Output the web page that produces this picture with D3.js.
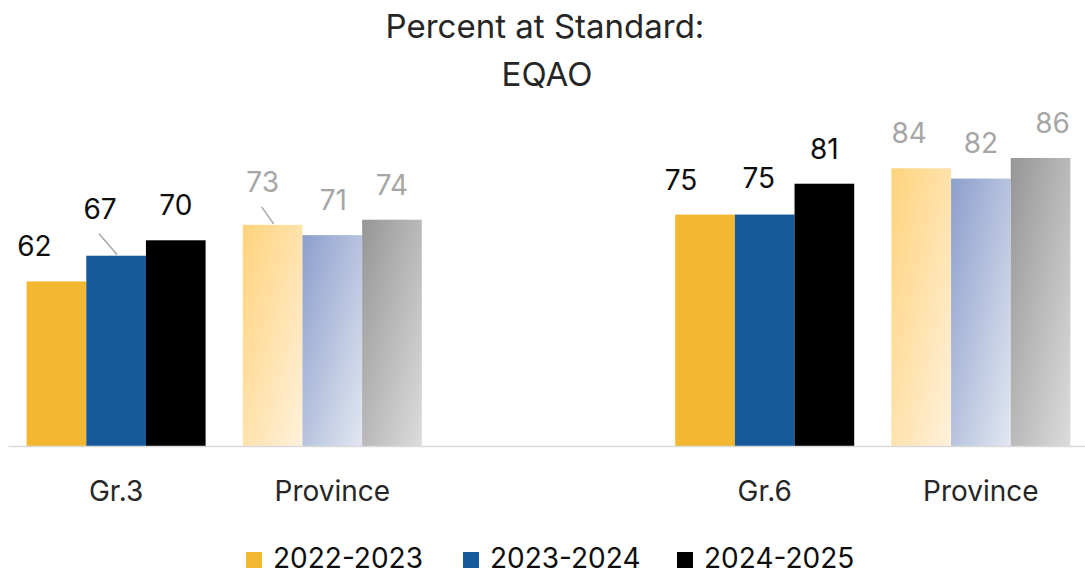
<!DOCTYPE html>
<html>
<head>
<meta charset="utf-8">
<script src="https://cdn.jsdelivr.net/npm/d3@7"></script>
<style>
  body { margin: 0; background: #fff; }
  svg { display: block; font-family: Inter, "Open Sans", sans-serif; }
</style>
</head>
<body>
<svg></svg>
<script>
// chart data
const categories = ["Gr.3", "Province", "", "Gr.6", "Province"];
const series = ["2022-2023", "2023-2024", "2024-2025"];
const values2022 = [62, 73, null, 75, 84];
const values2023 = [67, 71, null, 75, 82];
const values2024 = [70, 74, null, 81, 86];
const seriesValues = [values2022, values2023, values2024];

const width = 1085;
const height = 575;
const svg = d3.select("svg")
    .attr("width", width)
    .attr("height", height);

const solidColors = ["#F4B731", "#155A9A", "#000000"];
// faded gradients for the province bars: [start, end]
const fadedColors = [["#FFD37C", "#FFF1DC"], ["#8C9FCC", "#E2E7F1"], ["#969696", "#DCDCDC"]];

// hand-placed label tweaks [dx, dy], keyed "category-series"
const labelNudge = {
    "0-0": [-22, 0], "0-1": [-16, -12], "1-0": [-10, -8], "1-1": [1, 0],
    "3-0": [-24, 0], "3-1": [-6, -2], "4-0": [-12, 0], "4-1": [0, -1], "4-2": [12, 0]
};
const leaders = ["0-1", "1-0"];

const x0 = d3.scaleBand()
    .domain(d3.range(categories.length))
    .range([8, 1089])
    .paddingInner(0.172)
    .paddingOuter(0.086);

const x1 = d3.scaleBand()
    .domain(series)
    .range([0, x0.bandwidth()]);

const y = d3.scaleLinear()
    .domain([30, 100])
    .range([446, 86]);

const defs = svg.append("defs");
fadedColors.forEach((c, i) => {
    const g = defs.append("linearGradient")
        .attr("id", "fade" + i)
        .attr("x1", 0).attr("y1", 0)
        .attr("x2", 1).attr("y2", 1);
    g.append("stop").attr("offset", "0%").attr("stop-color", c[0]);
    g.append("stop").attr("offset", "100%").attr("stop-color", c[1]);
});

// title
const title = svg.append("text")
    .attr("text-anchor", "middle")
    .attr("fill", "#262626")
    .style("font-size", "33px");
title.append("tspan").attr("x", 545).attr("y", 38).text("Percent at Standard:");
title.append("tspan").attr("x", 547).attr("y", 86).text("EQAO");

// bars
const bars = [];
categories.forEach((cat, ci) => {
    series.forEach((s, si) => {
        const v = seriesValues[si][ci];
        if (v == null) return;
        bars.push({ ci, si, cat, series: s, value: v, faded: cat === "Province" });
    });
});

const g = svg.append("g");

g.selectAll("rect.bar")
    .data(bars)
    .enter().append("rect")
    .attr("class", "bar")
    .attr("x", d => x0(d.ci) + x1(d.series))
    .attr("y", d => y(d.value))
    .attr("width", x1.bandwidth())
    .attr("height", d => y(30) - y(d.value))
    .attr("fill", d => d.faded ? `url(#fade${d.si})` : solidColors[d.si]);

// axis line
const xAxis = g.append("g")
    .attr("transform", `translate(0,${y(30)})`)
    .call(d3.axisBottom(x0).tickSize(0).tickFormat(i => categories[i]));
xAxis.select(".domain").attr("stroke", "#D9D9D9").attr("stroke-width", 1.5);
xAxis.selectAll("text")
    .attr("dy", 0)
    .attr("y", 55)
    .attr("fill", "#262626")
    .style("font-size", "28px")
    .style("font-family", "Inter, sans-serif");

// data labels
const labelX = d => x0(d.ci) + x1(d.series) + x1.bandwidth() / 2 + (labelNudge[d.ci + "-" + d.si] || [0, 0])[0];
const labelY = d => y(d.value) - 25 + (labelNudge[d.ci + "-" + d.si] || [0, 0])[1];

g.selectAll("line.leader")
    .data(bars.filter(d => leaders.includes(d.ci + "-" + d.si)))
    .enter().append("line")
    .attr("class", "leader")
    .attr("x1", d => labelX(d) - 1)
    .attr("y1", d => labelY(d) + 15)
    .attr("x2", d => x0(d.ci) + x1(d.series) + x1.bandwidth() / 2 + 1)
    .attr("y2", d => y(d.value) - 1)
    .attr("stroke", "#A6A6A6")
    .attr("stroke-width", 1.5);

g.selectAll("text.value")
    .data(bars)
    .enter().append("text")
    .attr("class", "value")
    .attr("x", labelX)
    .attr("y", labelY)
    .attr("text-anchor", "middle")
    .attr("fill", d => d.faded ? "#A6A6A6" : "#0D0D0D")
    .style("font-size", "28px")
    .text(d => d.value);

// legend
const legendX = [246, 463, 677];
const legend = svg.append("g").selectAll("g")
    .data(series)
    .enter().append("g")
    .attr("transform", (d, i) => `translate(${legendX[i]},552)`);
legend.append("rect")
    .attr("width", 16).attr("height", 16)
    .attr("fill", (d, i) => solidColors[i]);
legend.append("text")
    .attr("x", 27)
    .attr("y", 16)
    .attr("fill", "#0D0D0D")
    .style("font-size", "28px")
    .text(d => d);
</script>
</body>
</html>
